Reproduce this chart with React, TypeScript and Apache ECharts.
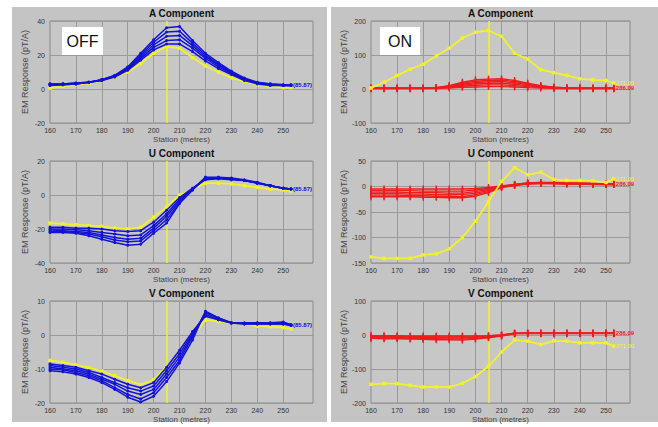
import React, { useEffect, useRef } from 'react';
import * as echarts from 'echarts';

const stations = [160, 165, 170, 175, 180, 185, 190, 195, 200, 205, 210, 215, 220, 225, 230, 235, 240, 245, 250, 253];
const gridStations = [170, 180, 190, 200, 210, 220, 230, 240, 250];
const refStation = 205;

// OFF – A component
const offA_yellow = [0.5, 1.5, 2.5, 3.5, 5, 7, 10, 15, 21, 25, 24, 18.5, 13.5, 10, 6.5, 4.5, 2.5, 1.5, 0.8, 0.8];
const offA_blue = [
  [3, 3, 3.5, 4, 5.5, 8, 13, 21, 29, 36, 36.8, 28.5, 21, 15.5, 10.5, 6.5, 4, 3, 2.5, 2.5],
  [3, 3, 3.5, 4, 5.5, 8, 12.5, 20, 27.5, 33.5, 34, 27, 20, 14.5, 10, 6, 3.8, 3, 2.5, 2.5],
  [2.5, 3, 3, 4, 5.5, 7.5, 12, 19, 26, 31, 31.5, 25.5, 19, 14, 9.5, 5.8, 3.5, 2.5, 2, 2],
  [2.5, 2.5, 3, 4, 5, 7.5, 11.5, 18, 24.5, 28.5, 29, 24, 18, 13, 9, 5.5, 3.5, 2.5, 2, 2],
  [2, 2.5, 3, 4, 5, 7, 11, 17, 23, 26.5, 26.5, 22, 16.5, 12, 8.5, 5, 3, 2, 2, 2],
];
// OFF – U component
const offU_yellow = [-16.5, -17, -17.5, -18, -18.5, -19.5, -20, -19, -13, -7, 0, 3.5, 7, 7, 6.5, 5.5, 4.5, 3.5, 3, 2.5];
const offU_blue = [
  [-19, -19, -19.5, -19.5, -20, -21, -21.5, -21, -16, -9, -1.5, 4, 9, 9.5, 9, 8.5, 7, 5.5, 4, 3.5],
  [-20, -20, -20.5, -21, -22, -23, -24, -23.5, -18, -11, -2.5, 3.5, 9.5, 10, 9.5, 8.5, 7, 5.5, 4, 3.5],
  [-20.5, -21, -21.5, -22, -23.5, -25, -26, -25.5, -19.5, -12.5, -3.5, 3.5, 10, 10, 9.5, 8.5, 7, 5.5, 4, 3.5],
  [-21.5, -21.5, -22, -23, -24.5, -26.5, -27.5, -27, -21, -14.5, -4.5, 3, 10, 10, 9.5, 8.5, 7, 5.5, 4, 3.5],
  [-22, -22, -22.5, -24, -26, -28, -29.5, -29, -22.5, -16.5, -5, 3, 10.5, 10.5, 10, 9, 7.5, 5.5, 4, 3.5],
];
// OFF – V component
const offV_yellow = [-7.5, -8, -8.8, -9.6, -10.6, -12, -13.4, -14.6, -13.2, -9.3, -4.9, -0.5, 4.4, 4, 3.6, 3.1, 2.6, 2.5, 2.2, 1.8];
const offV_blue = [
  [-8.5, -9, -9.5, -10.5, -11.5, -13, -14.5, -15.5, -14, -9.5, -4.5, 1, 5.5, 4.5, 3.5, 3.2, 3.2, 3.2, 3.2, 2.8],
  [-9, -9.5, -10, -11, -12.5, -14, -15.5, -16.5, -15, -10.5, -5.5, 0.5, 6, 4.5, 3.5, 3.3, 3.3, 3.3, 3.3, 2.8],
  [-9.5, -10, -10.5, -11.5, -13, -14.5, -16.5, -17.5, -16, -11.5, -6.5, 0, 6.5, 4.8, 3.6, 3.4, 3.4, 3.4, 3.4, 2.9],
  [-10, -10.2, -11, -12, -13.5, -15.5, -17.5, -18.8, -17, -12.5, -7.5, -0.5, 6.8, 5, 3.6, 3.5, 3.5, 3.5, 3.6, 3],
  [-10.5, -10.8, -11.5, -12.5, -14, -16, -18.3, -19.7, -18, -13.7, -8.2, -1.5, 7, 5, 3.6, 3.5, 3.6, 3.6, 3.8, 3],
];
// ON – A component
const onA_yellow = [3, 20, 40, 58, 73, 97, 120, 150, 167, 172, 155, 105, 88, 57, 48, 40, 30, 27, 25, 18];
const onA_red = [
  [2, 2, 2, 2, 2, 4, 10, 20, 27, 29, 30, 25, 17, 10, 5, 3, 2, 2, 2, 2],
  [2, 2, 2, 2, 2, 4, 9, 17, 23, 25, 26, 22, 15, 9, 5, 3, 2, 2, 2, 2],
  [2, 2, 2, 2, 2, 3, 8, 14, 19, 21, 22, 18, 13, 8, 4, 3, 2, 2, 2, 2],
  [2, 2, 2, 2, 2, 3, 6, 11, 15, 17, 17, 14, 10, 6, 4, 2, 2, 2, 2, 2],
  [2, 2, 2, 2, 2, 3, 5, 8, 11, 12, 12, 10, 7, 5, 3, 2, 2, 2, 2, 2],
  [1, 1, 1, 1, 1, 2, 3, 5, 6, 7, 7, 6, 4, 3, 2, 1, 1, 1, 1, 1],
];
// ON – U component
const onU_yellow = [-138, -141, -141, -141, -134, -132, -122, -100, -68, -30, 10, 37, 23, 28, 14, 12, 12, 11, 8, 15];
const onU_red = [
  [-5, -5, -5, -5, -5, -5, -5, -5, -4, -2, 1, 4, 7, 8, 8, 7, 7, 6, 5, 5],
  [-8, -8, -8, -8, -9, -9, -9, -9, -7, -4, 0, 4, 7, 8, 7, 7, 6, 6, 5, 5],
  [-11, -11, -11, -12, -12, -12, -13, -13, -10, -6, 0, 3, 6, 7, 7, 6, 6, 5, 5, 4],
  [-14, -14, -14, -15, -15, -16, -16, -16, -13, -8, -1, 3, 6, 7, 6, 6, 5, 5, 5, 4],
  [-17, -17, -17, -18, -18, -19, -19, -20, -16, -10, -1, 3, 6, 6, 6, 5, 5, 5, 4, 4],
  [-20, -20, -20, -20, -21, -21, -22, -22, -19, -12, -2, 2, 5, 6, 6, 5, 5, 4, 4, 4],
];
// ON – V component
const onV_yellow = [-145, -143, -143, -148, -153, -153, -153, -142, -122, -92, -50, -15, -18, -28, -17, -18, -23, -23, -23, -33];
const onV_red = [
  [-2, -2, -2, -3, -3, -3, -3, -3, -3, -2, 0, 5, 5, 5, 5, 5, 5, 5, 5, 5],
  [-4, -4, -5, -5, -5, -6, -6, -6, -5, -3, 0, 5, 5, 5, 5, 5, 5, 5, 5, 5],
  [-6, -6, -7, -7, -8, -8, -9, -9, -7, -5, -1, 5, 5, 5, 5, 5, 5, 5, 5, 5],
  [-8, -9, -9, -10, -10, -11, -12, -12, -10, -7, -2, 4, 5, 5, 5, 5, 5, 5, 5, 5],
  [-10, -11, -11, -12, -13, -14, -14, -15, -12, -8, -3, 4, 4, 4, 4, 4, 4, 4, 4, 4],
];

const titles = ['A Component', 'U Component', 'V Component'];
const blueEndLabel = '(85.87)';
const redEndLabel = '286.09';
const yellowEndLabel = '271.00';

const BLUE = '#1212d6';
const RED = '#ee1c1c';
const YELLOW = '#f2f22a';
const FONT = 'Liberation Sans, Arial, sans-serif';

export default function App() {
  const ref = useRef<HTMLDivElement>(null);

  useEffect(() => {
    const chart = echarts.init(ref.current!, null, { renderer: 'svg' });

    const panels = [
      { col: 0, row: 0, yellow: offA_yellow, others: offA_blue, min: -20, max: 40, interval: 20 },
      { col: 0, row: 1, yellow: offU_yellow, others: offU_blue, min: -40, max: 20, interval: 20 },
      { col: 0, row: 2, yellow: offV_yellow, others: offV_blue, min: -20, max: 10, interval: 10 },
      { col: 1, row: 0, yellow: onA_yellow, others: onA_red, min: -100, max: 200, interval: 100 },
      { col: 1, row: 1, yellow: onU_yellow, others: onU_red, min: -150, max: 50, interval: 50 },
      { col: 1, row: 2, yellow: onV_yellow, others: onV_red, min: -200, max: 100, interval: 100 },
    ];

    const colLeft = [50, 371];
    const colWidth = [263, 259];
    const colMax = [261.5, 259.2];
    const rowTop = [21, 161, 301];
    const plotH = 102;

    const grids: any[] = [];
    const xAxes: any[] = [];
    const yAxes: any[] = [];
    const series: any[] = [];
    const graphics: any[] = [
      { type: 'rect', shape: { x: 12, y: 7, width: 315, height: 415 }, style: { fill: '#c4c4c4' }, z: -10 },
      { type: 'rect', shape: { x: 331, y: 7, width: 327, height: 415 }, style: { fill: '#c4c4c4' }, z: -10 },
    ];

    panels.forEach((p, i) => {
      const left = colLeft[p.col];
      const width = colWidth[p.col];
      const top = rowTop[p.row];
      grids.push({
        left, top, width, height: plotH,
        show: true, backgroundColor: '#c7c7c7', borderColor: '#8a8a8a', borderWidth: 1,
        containLabel: false,
      });
      xAxes.push({
        type: 'value', gridIndex: i, min: 160, max: colMax[p.col], interval: 10,
        axisLine: { show: false }, axisTick: { show: false }, splitLine: { show: false },
        axisLabel: {
          fontSize: 7, color: '#333', margin: 4, fontFamily: FONT,
          formatter: (v: number) => (v > 250 ? '' : String(v)),
        },
        name: 'Station (metres)', nameLocation: 'middle', nameGap: 12,
        nameTextStyle: { fontSize: 8, color: '#444', fontFamily: FONT },
      });
      yAxes.push({
        type: 'value', gridIndex: i, min: p.min, max: p.max, interval: p.interval,
        axisLine: { show: false }, axisTick: { show: false },
        splitLine: { show: true, lineStyle: { color: '#9a9a9a', width: 1 } },
        axisLabel: { fontSize: 7, color: '#333', margin: 5, fontFamily: FONT },
        name: 'EM Response (pT/A)', nameLocation: 'middle', nameGap: 21,
        nameTextStyle: { fontSize: 9, color: '#444', fontFamily: FONT },
      });

      const toData = (arr: number[]) => stations.map((s, k) => [s, arr[k]]);

      // vertical grid lines drawn through the x scale
      series.push({
        type: 'line', xAxisIndex: i, yAxisIndex: i, data: toData(p.yellow), z: 1, silent: true,
        showSymbol: false, symbol: 'none', lineStyle: { opacity: 0 },
        markLine: {
          z: 1, silent: true, symbol: ['none', 'none'], label: { show: false },
          lineStyle: { color: '#9a9a9a', width: 1, type: 'solid' },
          data: gridStations.map((g) => ({ xAxis: g })),
        },
      });

      const isOff = p.col === 0;
      const c = isOff ? BLUE : RED;

      const yellowSeries = {
        type: 'line', xAxisIndex: i, yAxisIndex: i, data: toData(p.yellow), z: isOff ? 2 : 4,
        color: YELLOW, lineStyle: { color: YELLOW, width: 1.8 },
        symbol: 'rect', symbolSize: 3.5, itemStyle: { color: YELLOW },
        endLabel: isOff ? { show: false } : {
          show: true, formatter: () => yellowEndLabel, color: YELLOW, fontSize: 6, distance: 2, fontFamily: FONT,
        },
        markLine: {
          z: 3, silent: true, symbol: ['none', 'none'], label: { show: false },
          lineStyle: { color: YELLOW, width: 1.5, type: 'solid' },
          data: [{ xAxis: refStation }],
        },
      };
      if (isOff) series.push(yellowSeries);

      p.others.forEach((arr, k) => {
        series.push({
          type: 'line', xAxisIndex: i, yAxisIndex: i, data: toData(arr), z: 3,
          color: c, lineStyle: { color: c, width: isOff ? 1.5 : 1.4 },
          symbol: isOff ? 'circle' : 'rect',
          symbolSize: isOff ? 3 : [1.4, 7],
          itemStyle: { color: c },
          endLabel: k === 0 ? {
            show: true, formatter: () => (isOff ? blueEndLabel : redEndLabel), color: c,
            fontSize: 6, fontWeight: 'bold', distance: 2, fontFamily: FONT,
          } : { show: false },
        });
      });
      if (!isOff) series.push(yellowSeries);

      graphics.push({
        type: 'text', x: left + width / 2, y: top - 8, z: 10,
        style: {
          text: titles[p.row], fill: '#111', font: `bold 10px ${FONT}`,
          textAlign: 'center', textVerticalAlign: 'middle',
        },
      });
    });

    // OFF / ON tags
    graphics.push(
      { type: 'rect', shape: { x: 62, y: 27, width: 41, height: 28 }, style: { fill: '#ffffff' }, z: 20 },
      { type: 'text', x: 82.5, y: 41.5, z: 21, style: { text: 'OFF', fill: '#111', font: `16px ${FONT}`, textAlign: 'center', textVerticalAlign: 'middle' } },
      { type: 'rect', shape: { x: 380, y: 27, width: 40, height: 28 }, style: { fill: '#ffffff' }, z: 20 },
      { type: 'text', x: 400, y: 41.5, z: 21, style: { text: 'ON', fill: '#111', font: `16px ${FONT}`, textAlign: 'center', textVerticalAlign: 'middle' } },
    );

    chart.setOption({
      animation: false,
      backgroundColor: '#ffffff',
      grid: grids,
      xAxis: xAxes,
      yAxis: yAxes,
      series,
      graphic: graphics,
    });

    return () => chart.dispose();
  }, []);

  return (
    <div
      ref={ref}
      style={{ position: 'absolute', left: 0, top: 0, width: 658, height: 427, background: '#fff' }}
    />
  );
}
